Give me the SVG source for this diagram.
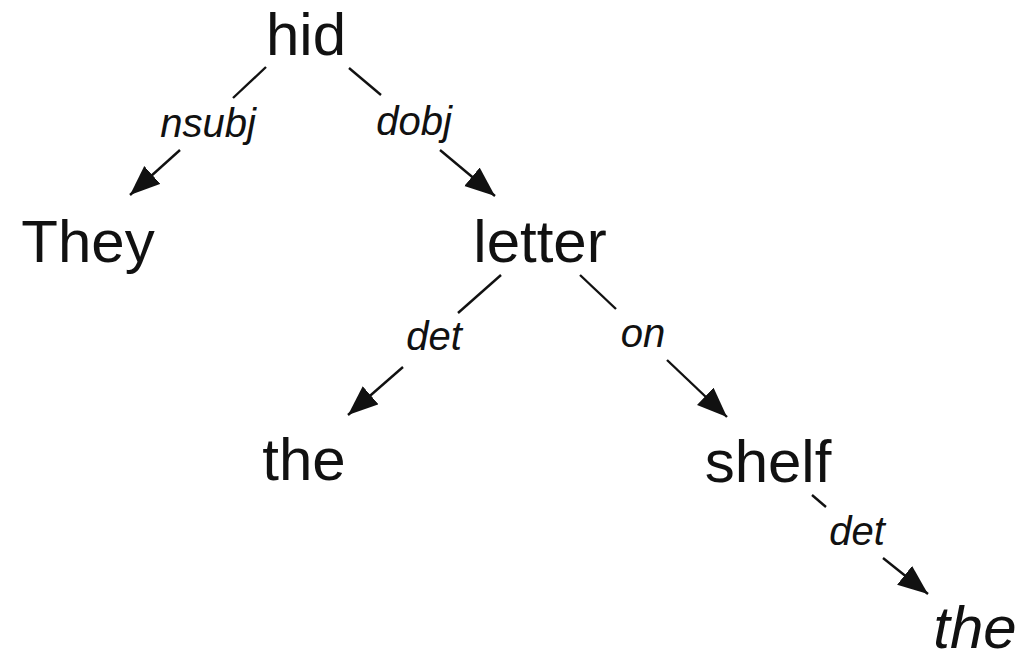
<svg xmlns="http://www.w3.org/2000/svg" width="1022" height="661" viewBox="0 0 1022 661">
<style>
.node{font-family:"Liberation Sans",Arial,sans-serif;font-size:60px;fill:#111;text-anchor:middle}
.it{font-style:italic}
.lbl{font-family:"Liberation Sans",Arial,sans-serif;font-size:40px;font-style:italic;fill:#111;text-anchor:middle}
.edge{stroke:#111;stroke-width:2.4;fill:none}
</style>
<defs>
<marker id="ah" markerUnits="userSpaceOnUse" markerWidth="32" markerHeight="26" refX="30" refY="12" orient="auto" viewBox="0 0 32 26">
<path d="M0,0 L30,12 L0,24 Z" fill="#111"/>
</marker>
</defs>
<rect width="1022" height="661" fill="#fff"/>
<g id="connectors">
<g id="e-nsubj">
<line class="edge" x1="266" y1="67" x2="233" y2="98"/>
<line class="edge" x1="180" y1="150" x2="130" y2="195" marker-end="url(#ah)"/>
<text class="lbl" x="208" y="137">nsubj</text>
</g>
<g id="e-dobj">
<line class="edge" x1="349" y1="68" x2="381" y2="95"/>
<line class="edge" x1="440" y1="150" x2="495" y2="196" marker-end="url(#ah)"/>
<text class="lbl" x="414" y="135">dobj</text>
</g>
<g id="e-det1">
<line class="edge" x1="501" y1="275" x2="458" y2="313"/>
<line class="edge" x1="403" y1="367" x2="348" y2="415" marker-end="url(#ah)"/>
<text class="lbl" x="434" y="350">det</text>
</g>
<g id="e-on">
<line class="edge" x1="580" y1="275" x2="616" y2="309"/>
<line class="edge" x1="667" y1="360" x2="727" y2="417" marker-end="url(#ah)"/>
<text class="lbl" x="643" y="347">on</text>
</g>
<g id="e-det2">
<line class="edge" x1="812" y1="495" x2="826" y2="507"/>
<line class="edge" x1="883" y1="558" x2="928" y2="594" marker-end="url(#ah)"/>
<text class="lbl" x="857" y="545">det</text>
</g>
</g>
<g id="n-hid"><text class="node" x="306" y="55">hid</text></g>
<g id="n-they"><text class="node" x="88" y="262">They</text></g>
<g id="n-letter"><text class="node" x="540" y="262">letter</text></g>
<g id="n-the1"><text class="node" x="304" y="480">the</text></g>
<g id="n-shelf"><text class="node" x="768" y="482">shelf</text></g>
<g id="n-the2"><text class="node it" x="975" y="648">the</text></g>
</svg>
